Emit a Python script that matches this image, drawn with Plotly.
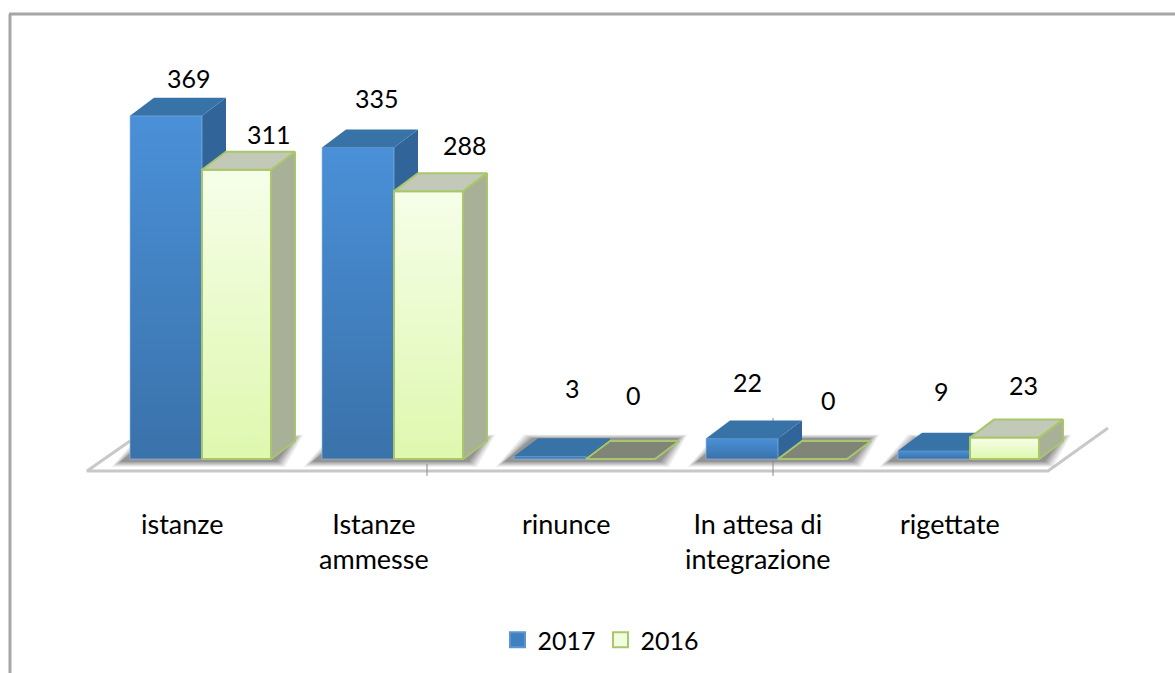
import plotly.graph_objects as go

categories = ["istanze", "Istanze<br>ammesse", "rinunce", "In attesa di<br>integrazione", "rigettate"]
series_names = ["2017", "2016"]
values_2017 = [369, 335, 3, 22, 9]
values_2016 = [311, 288, 0, 0, 23]

W, H = 1175, 673
PX_X = 192.0          # pixels per category
PX_Y = 0.93           # pixels per value unit
X0_PX, Y0_PX = 202.0, 459.0
DX = 24 / PX_X        # oblique depth in axis units
DY = 18 / PX_Y
W_A = 72 / PX_X
W_B = 69 / PX_X

lbl_dx = [[23, 19, 22, 5, 7], [32, 36, 13, 16, 19]]
lbl_dy = [[38, 49, 68, 57, 60], [36, 46, 64, 59, 53]]
cat_dx = -20 / PX_X
FONT = "Lato"
TXT = "#000000"

STY = [
    dict(scale=[[0, "#3a72aa"], [1, "#4a90d8"]], top="#3873a8", side="#31659a", line="rgba(150,190,230,0.6)", lw=1),
    dict(scale=[[0, "#def8ae"], [1, "#f6fee9"]], top="#c3c9b8", side="#a8b098", line="#a9c76a", lw=2),
]
ZERO_TOP = "#7f8577"

fig = go.Figure()

def poly(xs, ys, color=None, grad=None, line=None, lw=0):
    kw = dict(x=xs, y=ys, mode="lines", fill="toself", showlegend=False, hoverinfo="skip",
              line=dict(color=line or "rgba(0,0,0,0)", width=lw))
    if grad:
        kw["fillgradient"] = dict(type="vertical", colorscale=grad)
    else:
        kw["fillcolor"] = color
    fig.add_trace(go.Scatter(**kw))

n = len(categories)
# floor outline + shadows
fl, fr = (87 - X0_PX) / PX_X, (1048 - X0_PX) / PX_X
fb = (459 - 471) / PX_Y
fig.add_trace(go.Scatter(x=[(130 - X0_PX) / PX_X, fl, fr, (1108 - X0_PX) / PX_X],
                         y=[(459 - 441) / PX_Y, fb, fb, (459 - 428) / PX_Y],
                         mode="lines", line=dict(color="#c8c8c8", width=3),
                         showlegend=False, hoverinfo="skip"))
for i in range(n):
    for grow, alpha in ((8, 0.10), (6, 0.12), (4, 0.15), (2, 0.18), (0, 0.22)):
        g = grow / PX_X
        xl = i - W_A
        xr = i + W_B
        yb = (-3 - grow * 0.6) / PX_Y
        yt = DY + (3 + grow * 0.4) / PX_Y
        poly([xl - 10 / PX_X - g, xr + 6 / PX_X + g, xr + DX + g, xl + DX - 6 / PX_X - g, xl - 10 / PX_X - g],
             [yb, yb, yt, yt, yb], color=f"rgba(70,70,70,{alpha})")

# tick stubs seen on the floor
for cx, y0 in ((427, 464), (773, 418)):
    xv = (cx - X0_PX) / PX_X
    fig.add_trace(go.Scatter(x=[xv, xv], y=[(459 - y0) / PX_Y, (459 - 476) / PX_Y], mode="lines",
                             line=dict(color="#8a8a8a", width=1), showlegend=False, hoverinfo="skip"))

# flat bars so the values go through the bar trace
fig.add_trace(go.Bar(x=[i - W_A / 2 for i in range(n)], y=values_2017, width=W_A,
                     marker=dict(color="#4080c0", line=dict(width=0)), showlegend=False, hoverinfo="skip"))
fig.add_trace(go.Bar(x=[i + W_B / 2 for i in range(n)], y=values_2016, width=W_B,
                     marker=dict(color="#e8fbc8", line=dict(width=0)), showlegend=False, hoverinfo="skip"))

# pseudo-3D faces
for i in range(n):
    for s, (vals, xl, w) in enumerate(((values_2017, i - W_A, W_A), (values_2016, i, W_B))):
        v = vals[i]
        st = STY[s]
        xr = xl + w
        if v > 0:
            poly([xr, xr + DX, xr + DX, xr, xr], [0, DY, v + DY, v, 0], color=st["side"], line=st["line"] if s else None, lw=st["lw"] if s else 0)
            poly([xl, xl, xr, xr, xl], [0, v, v, 0, 0], grad=st["scale"], line=st["line"], lw=st["lw"])
        top = st["top"] if v > 0 else ZERO_TOP
        poly([xl, xr, xr + DX, xl + DX, xl], [v, v, v + DY, v + DY, v], color=top, line=st["line"] if s else None, lw=st["lw"] if s else 0)

# legend swatches
for name, lc, col in ((series_names[0], "#5c96cf", "#4080c0"), (series_names[1], "#a9c76a", "#f1fde0")):
    fig.add_trace(go.Scatter(x=[None], y=[None], mode="markers", name=name,
                             marker=dict(symbol="square", size=15, color=col,
                                         line=dict(color=lc, width=2))))

ann = []
for s, vals in enumerate((values_2017, values_2016)):
    for i, v in enumerate(vals):
        cx = i - W_A / 2 if s == 0 else i + W_B / 2
        ann.append(dict(x=cx, y=v, text=str(v), showarrow=False, xanchor="center", yanchor="middle",
                        xshift=lbl_dx[s][i], yshift=lbl_dy[s][i], font=dict(size=25)))
for i, c in enumerate(categories):
    ann.append(dict(x=i + cat_dx, y=(459 - 505) / PX_Y, text=c, showarrow=False, xanchor="center", yanchor="top",
                    align="center", font=dict(size=27)))

frame = dict(type="line", xref="paper", yref="paper", line=dict(color="#a6a6a6", width=3))
fig.update_layout(
    width=W, height=H, margin=dict(l=0, r=0, t=0, b=0, pad=0),
    autosize=False, paper_bgcolor="white", plot_bgcolor="white", barmode="overlay",
    font=dict(family=FONT, size=25, color=TXT),
    xaxis=dict(range=[-X0_PX / PX_X, (W - X0_PX) / PX_X], visible=False, fixedrange=True),
    yaxis=dict(range=[(Y0_PX - H) / PX_Y, Y0_PX / PX_Y], visible=False, fixedrange=True),
    annotations=ann,
    showlegend=True,
    legend=dict(orientation="h", x=601 / W, xanchor="center", y=1 - 640 / H, yanchor="middle",
                font=dict(family=FONT, size=25), bgcolor="rgba(0,0,0,0)", itemwidth=30, traceorder="normal"),
    shapes=[
        dict(frame, x0=9 / W, x1=1, y0=1 - 14 / H, y1=1 - 14 / H),
        dict(frame, x0=10 / W, x1=10 / W, y0=1 - 14 / H, y1=0),
    ],
)
fig.write_html("out.html", config={"displayModeBar": False},
               post_script="document.body.style.margin='0';document.documentElement.style.overflow='hidden';")
